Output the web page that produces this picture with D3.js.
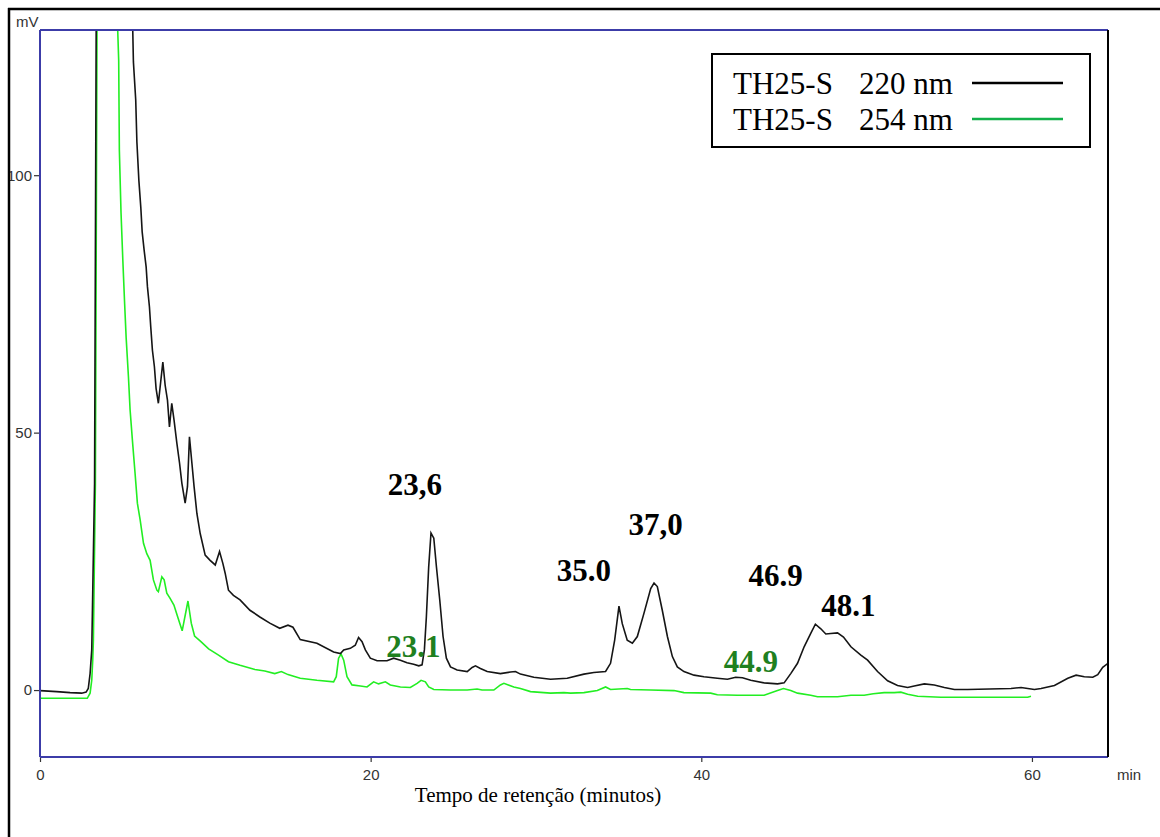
<!DOCTYPE html>
<html>
<head>
<meta charset="utf-8">
<script src="https://cdn.jsdelivr.net/npm/d3@7"></script>
<style>
  body { margin: 0; background: #fff; }
  svg { display: block; }
</style>
</head>
<body>
<script>
// chromatogram TH25-S, readings [time (min), signal (mV)]
const trace220 = [
  [0,-0.1],[1.01,-0.3],[1.82,-0.5],[2.52,-0.6],[2.79,-0.4],[2.92,0.3],[3.03,3.2],[3.13,7.8],[3.30,40],[3.40,130],[3.45,300],
  [4.5,400],[5.3,200],[5.61,128.2],[5.65,122],[5.79,114.6],[5.86,106.5],[5.98,99],[6.10,93.6],[6.18,89],[6.30,85.4],
  [6.42,82.2],[6.50,78.3],[6.62,74.4],[6.70,70.5],[6.80,66],[6.92,62.8],[7.02,58.6],[7.16,55.7],[7.43,63.7],[7.57,59.2],
  [7.71,56.3],[7.83,51.1],[7.97,55.7],[8.11,52.4],[8.28,47.9],[8.44,44.1],[8.58,40.2],[8.78,36.3],[8.92,39.5],[9.04,49.2],
  [9.19,44],[9.32,39.5],[9.49,34.3],[9.69,30.4],[9.99,26.2],[10.29,25.2],[10.60,24.3],[10.86,26.9],[11.06,24.6],[11.20,22.7],
  [11.40,19.4],[11.70,18.4],[12.1,17.5],[12.7,15.5],[13.3,14.2],[13.9,13],[14.5,12.0],[15.0,12.6],[15.3,12.2],[15.74,9.8],
  [16.75,9.1],[17.76,7.4],[18.17,7.1],[18.37,7.8],[18.77,8.1],[19.07,8.7],[19.27,10.2],[19.48,9.4],[19.68,7.8],[19.98,6.2],
  [20.39,5.7],[20.99,5.7],[21.39,6.2],[21.80,5.8],[22.20,5.3],[22.60,5.0],[22.91,4.7],[23.11,4.9],[23.25,7.8],[23.37,14.2],
  [23.51,23.9],[23.65,30.5],[23.82,29.5],[23.98,23.9],[24.18,17.5],[24.38,10.4],[24.58,6.2],[24.83,4.5],[25.23,3.9],[25.84,3.6],
  [26.14,4.4],[26.34,4.7],[26.64,4.2],[27.05,3.6],[27.85,3.2],[28.46,3.5],[28.76,3.6],[29.06,3.1],[29.87,2.5],[30.88,2.1],
  [31.89,2.3],[32.90,3.1],[33.50,3.4],[34.21,3.6],[34.51,5.2],[34.76,9.7],[35.02,16.3],[35.22,12.9],[35.52,9.7],[35.83,9.1],
  [36.13,10.4],[36.53,14.9],[36.94,19.7],[37.14,20.8],[37.34,20.1],[37.64,15.5],[37.95,10.4],[38.25,6.5],[38.55,4.5],[38.95,3.6],
  [39.56,2.9],[40.16,2.6],[40.97,2.3],[41.58,2.1],[42.08,2.5],[42.49,2.4],[42.99,1.9],[43.80,1.4],[44.61,1.2],[45.01,1.4],
  [45.41,3.2],[45.82,5.2],[46.22,8.4],[46.62,11.0],[46.90,12.8],[47.23,11.9],[47.53,10.9],[47.83,11.0],[48.24,11.1],[48.6,10.3],
  [49.05,8.4],[49.65,6.8],[50.06,5.8],[50.66,3.6],[51.27,1.8],[51.87,0.9],[52.48,0.5],[52.88,0.8],[53.49,1.2],[54.09,1.0],
  [54.70,0.5],[55.31,0.1],[56.11,0.1],[58.73,0.3],[59.34,0.5],[60.15,0.1],[60.55,0.3],[61.36,0.9],[62.17,2.3],[62.67,2.9],
  [63.17,2.6],[63.68,2.5],[63.98,3.0],[64.28,4.4],[64.6,5.2]
];

const trace254 = [
  [0,-1.6],[2.86,-1.6],[3.03,-0.6],[3.13,1.9],[3.19,5.8],[3.23,9.7],[3.35,40],[3.45,130],[3.5,300],[4.2,260],[4.6,150],
  [4.70,128.2],[4.76,122.3],[4.80,104.9],[4.90,92.8],[5.01,83.5],[5.12,75],[5.21,68.5],[5.35,60.8],[5.45,54.4],[5.59,48.5],
  [5.75,42.1],[5.89,36.3],[6.06,33],[6.26,28.5],[6.46,26.5],[6.66,25.2],[6.86,21.4],[7.07,19.4],[7.16,19.1],[7.37,22],
  [7.51,21.4],[7.67,18.8],[7.87,17.8],[8.1,16.5],[8.35,14],[8.6,11.5],[8.95,17.3],[9.15,13],[9.35,10.5],[9.7,9.5],
  [10.2,8],[10.8,6.8],[11.4,5.5],[12.1,4.8],[13.0,4.0],[13.6,3.7],[14.2,3.2],[14.6,3.6],[15.0,3.0],[15.74,2.3],
  [16.75,1.9],[17.76,1.6],[17.92,2.6],[18.06,6.2],[18.21,7.0],[18.37,5.8],[18.57,2.6],[18.87,1.0],[19.38,0.8],[19.78,0.6],
  [20.18,1.6],[20.48,1.2],[20.89,1.6],[21.19,1.0],[21.80,0.6],[22.40,0.5],[22.81,1.3],[23.05,1.9],[23.31,1.6],[23.51,0.6],
  [23.82,0.1],[24.83,0],[25.84,0],[26.44,0.2],[26.74,0],[27.45,0],[27.85,1.0],[28.06,1.3],[28.66,0.6],[29.06,0.3],
  [29.67,-0.3],[30.88,-0.6],[31.69,-0.5],[32.09,-0.6],[32.90,-0.5],[33.71,-0.1],[34.21,0.6],[34.51,0.1],[35.52,0.3],[35.72,0.1],
  [36.94,0],[38.35,-0.1],[38.95,-0.5],[40.57,-0.6],[40.97,-0.9],[42.18,-1.0],[43.80,-1.0],[44.61,-0.1],[44.97,0.3],[45.41,-0.1],
  [45.82,-0.6],[46.62,-1.0],[47.03,-1.3],[48.24,-1.3],[49.05,-1.0],[49.85,-1.0],[50.4,-0.7],[51.06,-0.5],[51.67,-0.5],[52.07,-0.4],
  [52.48,-0.8],[53.09,-1.2],[54.49,-1.4],[56.11,-1.4],[59.74,-1.4],[59.94,-1.2]
];

const xTicks = [0, 20, 40, 60];
const yTicks = [0, 50, 100];

const legendItems = [
  { name: "TH25-S", wave: "220 nm", color: "#000" },
  { name: "TH25-S", wave: "254 nm", color: "#12b04a" }
];

// peak labels placed at [time, mV]
const peakLabels = [
  { text: "23,6", t: 22.68, v: 37.9, color: "#000" },
  { text: "35.0", t: 32.90, v: 21.1, color: "#000" },
  { text: "37,0", t: 37.23, v: 30.1, color: "#000" },
  { text: "46.9", t: 44.49, v: 20.2, color: "#000" },
  { text: "48.1", t: 48.90, v: 14.3, color: "#000" },
  { text: "23.1", t: 22.59, v: 6.5, color: "#1f801f" },
  { text: "44.9", t: 43.00, v: 3.6, color: "#1f801f" }
];

const W = 1160, H = 837;
const mLeft = 40, mRight = 1108, mTop = 30, mBottom = 757;
const serif = "'Liberation Serif', 'Times New Roman', serif";

const x = d3.scaleLinear().domain([0, 64.6]).range([mLeft, mRight]);
const y = d3.scaleLinear().domain([-13, 128.2]).range([mBottom, mTop]);

const svg = d3.select("body").append("svg")
  .attr("width", W).attr("height", H)
  .style("font-family", "'Liberation Sans', Arial, sans-serif");

svg.append("defs").append("clipPath").attr("id", "plot")
  .append("rect").attr("x", mLeft).attr("y", mTop)
  .attr("width", mRight - mLeft).attr("height", mBottom - mTop);

const line = d3.line().x(d => x(d[0])).y(d => y(d[1]));

const curves = svg.append("g").attr("clip-path", "url(#plot)").attr("fill", "none");
curves.append("path").datum(trace254)
  .attr("d", line).attr("stroke", "#22ee22").attr("stroke-width", 1.6);
curves.append("path").datum(trace220)
  .attr("d", line).attr("stroke", "#151515").attr("stroke-width", 1.6);

// axes
const xAxis = svg.append("g").attr("transform", `translate(0,${mBottom})`)
  .call(d3.axisBottom(x).tickValues(xTicks).tickSize(5).tickPadding(7).tickFormat(d3.format("d")));
const yAxis = svg.append("g").attr("transform", `translate(${mLeft},0)`)
  .call(d3.axisLeft(y).tickValues(yTicks).tickSize(6).tickPadding(2).tickFormat(d3.format("d")));
[xAxis, yAxis].forEach(a => {
  a.select(".domain").remove();
  a.selectAll(".tick line").attr("stroke", "#333").attr("stroke-width", 1.2);
  a.selectAll(".tick text").attr("fill", "#333").style("font-size", "15px")
    .style("font-family", "'Liberation Sans', Arial, sans-serif");
});

// plot frame
const frame = svg.append("g").attr("stroke-width", 2);
frame.append("line").attr("x1", mLeft).attr("x2", mRight).attr("y1", mTop).attr("y2", mTop).attr("stroke", "#3c3ca8");
frame.append("line").attr("x1", mLeft).attr("x2", mRight).attr("y1", mBottom).attr("y2", mBottom).attr("stroke", "#3c3ca8");
frame.append("line").attr("x1", mLeft).attr("x2", mLeft).attr("y1", mTop).attr("y2", mBottom).attr("stroke", "#3c3ca8");
frame.append("line").attr("x1", mRight).attr("x2", mRight).attr("y1", mTop).attr("y2", mBottom).attr("stroke", "#000");

svg.append("text").attr("x", 16).attr("y", 27).attr("fill", "#333")
  .style("font-size", "15px").text("mV");
svg.append("text").attr("x", mRight + 9).attr("y", 780).attr("fill", "#333")
  .style("font-size", "15px").text("min");

svg.append("text").attr("x", 538).attr("y", 802)
  .attr("text-anchor", "middle")
  .style("font-family", serif)
  .style("font-size", "21px").attr("fill", "#000")
  .text("Tempo de retenção (minutos)");

// peak labels
svg.append("g").selectAll("text").data(peakLabels).join("text")
  .attr("x", d => x(d.t)).attr("y", d => y(d.v))
  .attr("text-anchor", "middle")
  .style("font-family", serif).style("font-weight", "bold").style("font-size", "31px")
  .attr("fill", d => d.color)
  .text(d => d.text);

// legend
const lg = svg.append("g");
lg.append("rect").attr("x", 712).attr("y", 54).attr("width", 378).attr("height", 93)
  .attr("fill", "#fff").attr("stroke", "#000").attr("stroke-width", 2);
legendItems.forEach((d, i) => {
  const yy = 94 + i * 36;
  lg.append("text").attr("x", 733).attr("y", yy)
    .style("font-family", serif).style("font-size", "31px").text(d.name);
  lg.append("text").attr("x", 859).attr("y", yy)
    .style("font-family", serif).style("font-size", "31px").text(d.wave);
  lg.append("line").attr("x1", 972).attr("x2", 1063).attr("y1", yy - 11).attr("y2", yy - 11)
    .attr("stroke", d.color).attr("stroke-width", 2.5);
});

// outer page frame (clips the "100" label)
svg.append("rect").attr("x", 0).attr("y", 0).attr("width", 8).attr("height", H).attr("fill", "#fff");
svg.append("rect").attr("x", 0).attr("y", 0).attr("width", W).attr("height", 8).attr("fill", "#fff");
svg.append("line").attr("x1", 9).attr("x2", 9).attr("y1", 8).attr("y2", H).attr("stroke", "#000").attr("stroke-width", 2.5);
svg.append("line").attr("x1", 8).attr("x2", W).attr("y1", 9).attr("y2", 9).attr("stroke", "#000").attr("stroke-width", 2.5);
</script>
</body>
</html>
